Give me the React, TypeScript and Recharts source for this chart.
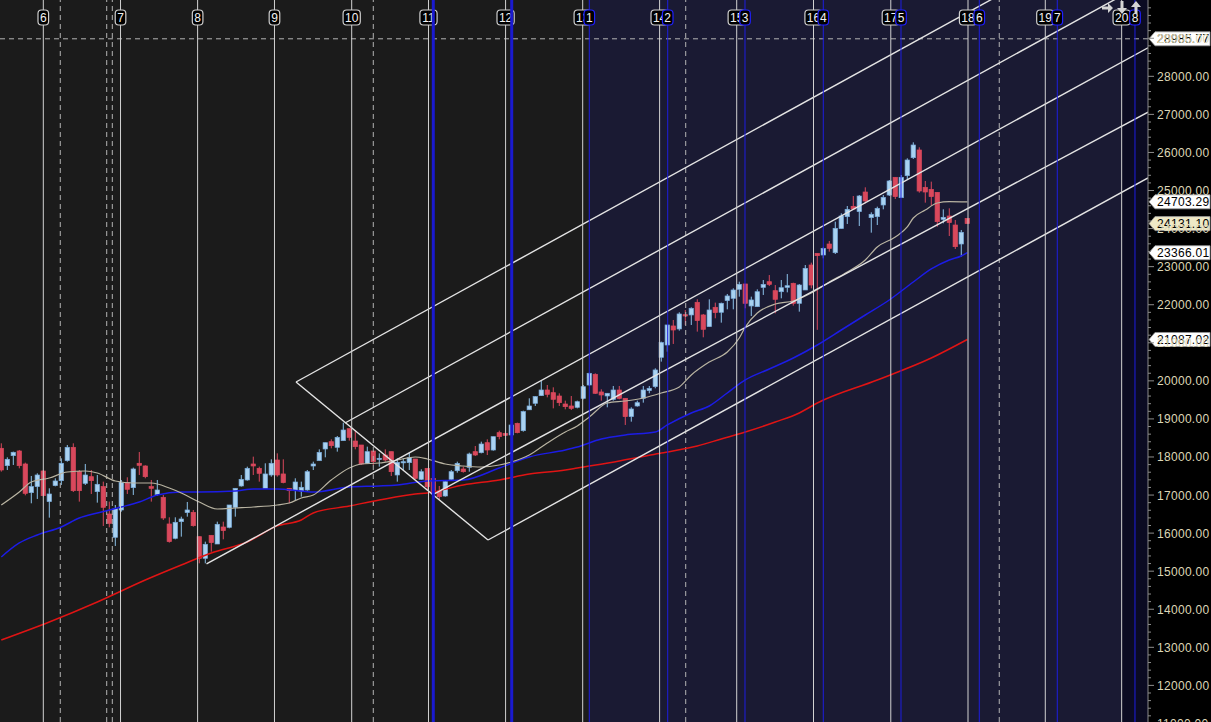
import React from 'react';
import { ComposedChart, Bar, Line, XAxis, YAxis, ReferenceLine, ReferenceArea } from 'recharts';

const W = 1211;
const H = 722;
const FONT = '"Liberation Sans", Arial, sans-serif';

// one candle per bar slot, left to right: [open, high, low, close]
const candles: [number, number, number, number][] = [
  [18228, 18359, 17615, 17658], [17772, 17991, 17658, 17939], [18035, 18140, 17790, 18123], [18158, 18184, 17702, 17772],
  [17816, 17851, 16993, 17045], [17063, 17501, 16783, 17221], [17221, 17571, 16897, 17527], [17632, 17658, 16958, 16984],
  [16827, 17177, 16406, 17028], [17247, 17440, 17229, 17370], [17378, 17965, 17265, 17834], [17904, 18315, 17877, 18254],
  [18254, 18359, 17080, 17115], [17615, 17658, 16827, 17115], [17308, 17816, 17265, 17527], [17483, 17658, 17028, 17378],
  [17089, 17527, 16800, 17282], [17221, 17352, 16187, 16678], [16503, 16827, 16152, 16257], [15890, 16739, 15662, 16651],
  [16608, 17396, 16564, 17326], [17326, 17466, 17028, 17151], [17194, 17720, 17002, 17685], [17834, 18131, 17527, 17781],
  [17764, 17781, 17440, 17483], [17221, 17396, 16827, 17177], [17010, 17396, 16984, 17133], [16940, 17002, 16345, 16397],
  [16240, 16415, 15750, 15776], [15863, 16415, 15837, 16284], [16301, 16432, 15907, 16371], [16538, 16818, 16432, 16608],
  [16546, 16608, 16170, 16196], [15907, 15907, 15206, 15338], [15338, 15776, 15206, 15706], [15942, 15942, 15513, 15750],
  [15714, 16301, 15714, 16231], [16161, 16301, 15837, 16065], [16152, 16739, 16126, 16739], [16678, 17177, 16432, 17177],
  [17238, 17527, 17221, 17413], [17396, 17746, 17378, 17702], [17816, 18009, 17527, 17764], [17702, 17746, 17352, 17571],
  [17177, 17834, 17177, 17554], [17527, 17939, 17483, 17834], [17921, 18096, 17483, 17527], [17554, 17939, 17308, 17326],
  [17177, 17177, 16783, 17115], [17115, 17440, 16844, 17343], [17106, 17352, 16957, 17203], [17133, 17658, 17115, 17614],
  [17763, 17877, 17658, 17816], [17903, 18201, 17903, 18122], [18210, 18376, 17991, 18376], [18402, 18464, 18227, 18297],
  [18254, 18551, 18140, 18516], [18429, 18902, 18429, 18709], [18744, 18744, 18429, 18516], [18420, 18691, 18201, 18271],
  [18315, 18315, 17789, 17816], [17833, 18271, 17816, 18140], [18157, 18157, 17789, 17877], [17938, 18096, 17746, 17965],
  [18052, 18201, 17877, 17921], [18140, 18140, 17500, 17614], [17527, 17965, 17352, 17859], [17851, 17965, 17658, 17877],
  [17851, 18113, 17658, 17982], [17947, 17947, 17413, 17439], [17413, 17676, 17395, 17614], [17702, 17702, 17115, 17220],
  [17439, 17457, 17045, 17062], [17106, 17238, 16870, 16957], [16975, 17395, 16957, 17352], [17413, 17658, 17395, 17614],
  [17640, 17877, 17588, 17833], [17684, 17746, 17588, 17614], [17728, 18113, 17614, 18078], [18140, 18289, 18026, 18052],
  [18113, 18402, 18096, 18341], [18376, 18464, 18052, 18183], [18183, 18534, 18166, 18534], [18639, 18691, 18464, 18534],
  [18621, 18639, 18551, 18569], [18578, 18867, 18569, 18840], [18884, 18902, 18621, 18639], [18691, 19217, 18665, 19191],
  [19240, 19541, 19234, 19340], [19410, 19602, 19340, 19585], [19611, 20005, 19602, 19760], [19760, 19891, 19567, 19646],
  [19690, 19830, 19278, 19515], [19602, 19672, 19340, 19427], [19392, 19480, 19252, 19322], [19340, 19602, 19234, 19278],
  [19305, 19480, 19278, 19453], [19541, 19891, 19515, 19847], [19891, 20216, 19865, 20198], [20172, 20198, 19655, 19673],
  [19708, 19778, 19480, 19629], [19603, 19673, 19305, 19673], [19515, 19865, 19480, 19760], [19760, 19865, 19515, 19541],
  [19541, 19541, 18841, 19060], [19060, 19305, 18928, 19261], [19340, 19480, 19322, 19427], [19541, 19865, 19427, 19760],
  [19743, 19865, 19673, 19804], [19848, 20329, 19804, 20286], [20618, 21030, 20505, 21004], [20942, 21468, 20767, 21468],
  [21442, 21599, 20969, 21336], [21363, 21801, 21319, 21757], [21739, 21862, 21468, 21704], [21731, 21932, 21468, 21906],
  [22063, 22142, 21293, 21582], [21731, 21757, 21144, 21354], [21424, 22142, 21424, 21862], [21932, 22055, 21643, 21792],
  [21801, 22055, 21529, 22037], [22107, 22282, 21879, 22230], [22168, 22431, 21879, 22387], [22405, 22605, 22212, 22535],
  [22545, 22545, 21906, 22037], [21967, 22212, 21704, 22125], [21949, 22404, 21949, 22342], [22456, 22649, 22256, 22535],
  [22605, 22780, 22491, 22535], [22369, 22517, 21774, 22142], [22342, 22649, 22168, 22447], [22456, 22806, 22325, 22500],
  [22562, 22579, 21975, 22036], [22036, 22544, 21818, 22518], [22387, 23043, 22387, 22956], [23043, 23105, 22430, 22518],
  [23350, 23350, 21340, 23289], [23306, 23508, 23219, 23481], [23595, 23674, 23394, 23481], [23367, 24182, 23332, 24007],
  [24000, 24401, 24000, 24331], [24313, 24593, 24121, 24506], [24585, 24856, 24515, 24515], [24445, 24882, 24068, 24856],
  [24961, 25084, 24664, 24725], [24287, 24427, 23893, 24375], [24313, 24576, 24094, 24532], [24620, 24882, 24506, 24821],
  [24882, 25276, 24856, 25250], [25347, 25347, 24777, 24839], [24812, 25408, 24812, 25347], [25390, 25846, 25276, 25802],
  [25863, 26266, 25828, 26196], [26065, 26135, 24944, 24987], [25084, 25250, 24681, 24961], [25031, 25233, 24593, 24839],
  [24952, 24952, 24050, 24182], [24243, 24506, 24138, 24296], [24331, 24532, 23805, 24156], [24094, 24226, 23464, 23525],
  [23595, 23963, 23262, 23902], [24269, 24269, 24131, 24131],
];

// moving averages: [bar, value]
const maGray: [number, number][] = [
  [0, 16739], [3, 17080], [5, 17343], [8, 17448], [11, 17606], [14, 17632], [16, 17580], [19, 17369], [22, 17317],
  [25, 17317], [28, 17185], [30, 17054], [33, 16817], [36, 16633], [39, 16660], [42, 16686], [46, 16739], [48, 16791],
  [50, 16923], [52, 17001], [55, 17395], [58, 17711], [60, 17816], [63, 17842], [66, 17921], [69, 18000], [71, 17947],
  [74, 17816], [77, 17763], [80, 17737], [83, 17790], [85, 17869], [88, 18053], [91, 18368], [94, 18656], [96, 18814],
  [98, 19050], [101, 19418], [104, 19471], [107, 19550], [110, 19681], [113, 19839], [115, 20154], [118, 20495],
  [121, 20758], [123, 21126], [124, 21416], [126, 21783], [129, 22019], [132, 22098], [135, 22308], [138, 22597],
  [141, 22860], [144, 23175], [146, 23516], [149, 23779], [151, 24042], [152, 24278], [154, 24488], [156, 24672],
  [158, 24710], [161, 24703],
];
const maBlue: [number, number][] = [
  [0, 15373], [3, 15741], [6, 15951], [10, 16161], [13, 16397], [16, 16529], [20, 16686], [23, 16817], [26, 17001],
  [30, 17080], [33, 17080], [39, 17107], [42, 17159], [46, 17159], [50, 17107], [52, 17080], [58, 17212], [63, 17238],
  [66, 17264], [71, 17369], [77, 17396], [83, 17711], [88, 18000], [94, 18184], [96, 18263], [100, 18473], [104, 18578],
  [109, 18656], [111, 18841], [115, 19156], [118, 19340], [121, 19681], [124, 20023], [128, 20311], [132, 20600],
  [136, 20942], [140, 21336], [144, 21730], [148, 22124], [152, 22597], [155, 22939], [158, 23175], [160, 23280],
  [161, 23366],
];
const maRed: [number, number][] = [
  [0, 13192], [8, 13665], [16, 14191], [24, 14769], [30, 15163], [35, 15478], [41, 15767], [46, 16190], [50, 16345],
  [52, 16529], [58, 16712], [63, 16870], [69, 17028], [71, 17054], [77, 17264], [83, 17396], [88, 17553], [94, 17658],
  [96, 17711], [103, 17895], [110, 18105], [116, 18289], [120, 18473], [124, 18657], [129, 18919], [133, 19156],
  [136, 19419], [146, 20023], [155, 20600], [161, 21087],
];

// time cycle markers (bar positions) and their labels
const cycleWhite = [7.0, 19.87, 32.72, 45.53, 58.4, 71.2, 84.05, 96.9, 109.72, 122.57, 135.37, 148.25, 161.12, 174.0, 186.73];
const cycleWhiteLabels = ['6', '7', '8', '9', '10', '11', '12', '13', '14', '15', '16', '17', '18', '19', '20'];
const cycleBlue = [98.0, 111.07, 123.95, 137.0, 149.95, 163.0, 176.0, 188.95];
const cycleBlueLabels = ['1', '2', '3', '4', '5', '6', '7', '8'];
const markerBlue = [72.0, 85.07];
const dashedBars = [9.83, 17.57, 18.5, 62.0, 114.07, 166.33];

// channel / pitchfork drawings: [bar1, price1, bar2, price2]
const channels: [number, number, number, number][] = [
  [49.12, 19970, 191.12, 32282],
  [57.28, 18893, 191.12, 30497],
  [34.2, 15189, 191.12, 28750],
  [71.78, 17001, 191.12, 27060],
  [81.12, 15819, 191.12, 25330],
  [49.12, 19970, 81.12, 15819],
];

const crosshairPrice = 28985.77;
const priceTags = [
  { value: 28985.77, fill: '#ffffff' },
  { value: 24703.29, fill: '#ffffff' },
  { value: 24131.1, fill: '#efe9c6' },
  { value: 23366.01, fill: '#ffffff' },
  { value: 21087.02, fill: '#ffffff' },
];
const majorTicks = [11000, 12000, 13000, 14000, 15000, 16000, 17000, 18000, 19000, 20000, 21000, 22000, 23000, 24000, 25000, 26000, 27000, 28000, 29000];

const X_DOMAIN: [number, number] = [-0.2167, 191.12];
const Y_DOMAIN: [number, number] = [11038, 30005];

const rows: any[] = candles.map(([o, h, l, c], k) => ({ k, o, h, l, c, range: [l, h] }));
maGray.forEach(([k, v]) => { rows[k].gray = v; });
maBlue.forEach(([k, v]) => { rows[k].blue = v; });
maRed.forEach(([k, v]) => { rows[k].red = v; });

const allTicks = majorTicks.flatMap((m) => [m, m + 200, m + 400, m + 600, m + 800]);

function Candle(props: any) {
  const { x, y, width, height, payload } = props;
  if (!payload || payload.o == null) return null;
  const { o, h, l, c } = payload;
  const top = Math.min(y, y + height);
  const span = Math.abs(height);
  const py = (v: number) => (h === l ? top : top + ((h - v) / (h - l)) * span);
  const cx = x + width / 2;
  const up = c >= o;
  const bodyTop = py(Math.max(o, c));
  const bodyH = Math.max(1.2, py(Math.min(o, c)) - bodyTop);
  return (
    <g>
      <line x1={cx} x2={cx} y1={top} y2={top + span} stroke={up ? '#8dc2ea' : '#d9485c'} strokeWidth={1} />
      <rect x={cx - 2.2} y={bodyTop} width={4.4} height={bodyH}
        fill={up ? '#a9d2f1' : '#d9485c'} stroke={up ? '#79acdc' : '#d9485c'} strokeWidth={0.7} />
    </g>
  );
}

function AxisTick(props: any) {
  const { x, y, payload } = props;
  const v = payload.value;
  const major = v % 1000 === 0;
  return (
    <g>
      <line x1={x} x2={x + (major ? 6 : 3)} y1={y} y2={y} stroke="#8c8c8c" />
      {major && (
        <text x={x + 9} y={y + 4.5} fill="#ddd6b6" fontSize={12} fontFamily={FONT} letterSpacing={0.3}>
          {v.toFixed(2)}
        </text>
      )}
    </g>
  );
}

const topBox = (text: string, border: string) => (props: any) => {
  const vx = props.viewBox?.x ?? 0;
  const w = text.length * 6.6 + 4;
  return (
    <g>
      <rect x={vx - w / 2} y={10} width={w} height={15} rx={3.5} fill="#000" stroke={border} strokeWidth={1.2} />
      <text x={vx} y={21.5} textAnchor="middle" fill="#f2f2f2" fontSize={12} fontFamily={FONT}>{text}</text>
    </g>
  );
};

const priceTag = (value: number, fill: string) => (props: any) => {
  const vb = props.viewBox || {};
  const x0 = (vb.x ?? 0) + (vb.width ?? 0) + 1;
  const y = vb.y ?? 0;
  return (
    <g>
      <polygon
        points={`${x0},${y} ${x0 + 6},${y - 7} ${x0 + 61},${y - 7} ${x0 + 61},${y + 7} ${x0 + 6},${y + 7}`}
        fill={fill} stroke="#9a9a9a" strokeWidth={0.8} />
      <text x={x0 + 8} y={y + 4.5} fill="#000" fontSize={12} fontFamily={FONT} letterSpacing={0.3}>{value.toFixed(2)}</text>
    </g>
  );
};

// little toolbar glyphs in the top-right corner (right, down, up)
function Toolbar() {
  const c = '#d4d4d4';
  return (
    <svg width={50} height={20} style={{ position: 'absolute', left: 1098, top: 0 }}>
      <path d="M4 6.5 H10 V3 L15 8 L10 13 V9.5 H4 Z" fill={c} />
      <path d="M22.5 1 H25.5 V8 H29 L24 14 L19 8 H22.5 Z" fill={c} />
      <path d="M36.5 14 H39.5 V7 H43 L38 1 L33 7 H36.5 Z" fill={c} />
    </svg>
  );
}

export default function App() {
  return (
    <div style={{ position: 'fixed', left: 0, top: 0, width: W, height: H, background: '#000', overflow: 'hidden' }}>
      <ComposedChart width={W} height={H} data={rows} margin={{ top: 0, right: 0, bottom: 0, left: 0 }}>
        <XAxis dataKey="k" type="number" domain={X_DOMAIN} allowDataOverflow hide />
        <YAxis orientation="right" width={63} domain={Y_DOMAIN} allowDataOverflow ticks={allTicks} interval={0}
          tick={AxisTick} tickLine={false} tickSize={0} tickMargin={0} axisLine={{ stroke: '#8c8c8c' }} />

        <ReferenceArea x1={X_DOMAIN[0]} x2={98} fill="#1b1b1b" fillOpacity={1} stroke="none" ifOverflow="hidden" />
        <ReferenceArea x1={98} x2={186.73} fill="#1a1a33" fillOpacity={1} stroke="none" ifOverflow="hidden" />
        <ReferenceArea x1={186.73} x2={X_DOMAIN[1]} fill="#0b0b22" fillOpacity={1} stroke="none" ifOverflow="hidden" />

        {dashedBars.map((b) => (
          <ReferenceLine key={'d' + b} x={b} stroke="#b4b4b4" strokeDasharray="5 4" ifOverflow="hidden" />
        ))}
        <ReferenceLine y={crosshairPrice} stroke="#b4b4b4" strokeDasharray="5 4" ifOverflow="hidden" />

        <Bar dataKey="range" barSize={4} shape={Candle} isAnimationActive={false} />

        <Line dataKey="red" stroke="#e01414" strokeWidth={1.5} dot={false} activeDot={false} connectNulls type="monotone" isAnimationActive={false} />
        <Line dataKey="blue" stroke="#1c1ce6" strokeWidth={1.5} dot={false} activeDot={false} connectNulls type="monotone" isAnimationActive={false} />
        <Line dataKey="gray" stroke="#b9b4a2" strokeWidth={1.2} dot={false} activeDot={false} connectNulls type="monotone" isAnimationActive={false} />

        {channels.map(([k1, p1, k2, p2], i) => (
          <ReferenceLine key={'c' + i} segment={[{ x: k1, y: p1 }, { x: k2, y: p2 }]}
            stroke="#e4e4e4" strokeWidth={1.4} ifOverflow="hidden" />
        ))}

        {cycleWhite.map((b, i) => (
          <ReferenceLine key={'w' + i} x={b} stroke="#d2d2d2" strokeWidth={1} ifOverflow="visible"
            label={topBox(cycleWhiteLabels[i], '#cfcfcf')} />
        ))}
        {markerBlue.map((b) => (
          <ReferenceLine key={'m' + b} x={b} stroke="#1a1ad0" strokeWidth={3} ifOverflow="visible" />
        ))}
        {cycleBlue.map((b, i) => (
          <ReferenceLine key={'b' + i} x={b} stroke="#1e1ee0" strokeWidth={1} ifOverflow="visible"
            label={topBox(cycleBlueLabels[i], '#2020ff')} />
        ))}

        {priceTags.map((t) => (
          <ReferenceLine key={'t' + t.value} y={t.value} stroke="none" ifOverflow="visible" label={priceTag(t.value, t.fill)} />
        ))}
      </ComposedChart>
      <Toolbar />
    </div>
  );
}
